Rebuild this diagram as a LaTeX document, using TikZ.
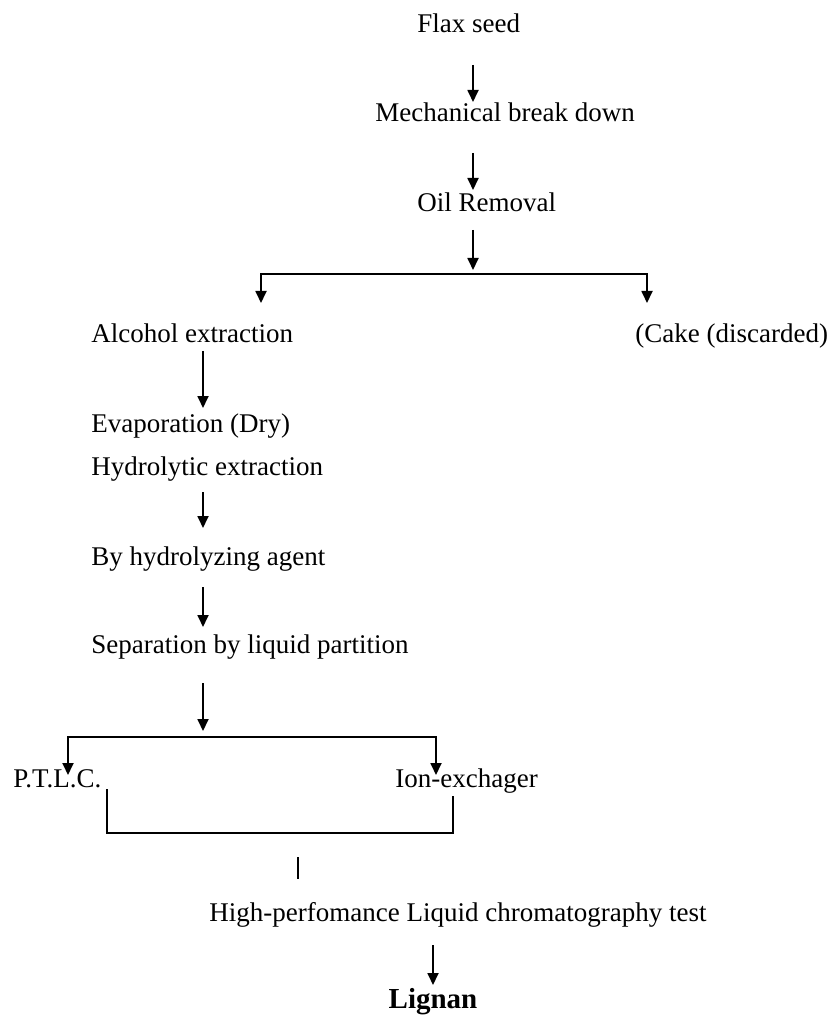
\documentclass[tikz,border=0pt]{standalone}
\usepackage{fontspec}
\setmainfont{Liberation Serif}
\usetikzlibrary{arrows.meta,calc}
\tikzset{
  stage/.style={inner sep=0pt,anchor=base west,font=\fontsize{13.5}{16}\selectfont},
  arr/.style={-{Triangle[length=6pt,width=5.5pt]},line width=0.9pt},
  twoarr/.style={{Triangle[length=6pt,width=5.5pt]}-{Triangle[length=6pt,width=5.5pt]},line width=0.9pt},
  bar/.style={line width=0.9pt}
}

\begin{document}
\begin{tikzpicture}[x=0.5pt,y=-0.5pt]
        \useasboundingbox (0,0) rectangle (828,1015);
        % first column
        \node[stage] (flax) at (417,33) {Flax seed};
        \node[stage] (mech) at (375,122) {Mechanical break down};
        \node[stage] (oil) at (417,212) {Oil Removal};
        \coordinate (spine) at (473,0);
        \draw[arr] ($(flax.base -| spine)+(0,32)$) -- ($(mech.base -| spine)+(0,-20)$);
        \draw[arr] ($(mech.base -| spine)+(0,31)$) -- ($(oil.base -| spine)+(0,-22)$);
        \draw[arr] ($(oil.base -| spine)+(0,18)$) -- ($(oil.base -| spine)+(0,58)$);
        % fork after oil removal
        \node[stage] (alcohol) at (91,343) {Alcohol extraction};
        \node[stage] (cake) at (635,343) {(Cake (discarded)};
        \draw[twoarr] ($(alcohol.base west)+(170,-40)$) |- ($(cake.base west)+(12,-69)$) -- ($(cake.base west)+(12,-40)$);
        % second column
        \node[stage] (evap) at (91,432) {Evaporation (Dry)};
        \node[stage] (hydro) at (91,475) {Hydrolytic extraction};
        \node[stage] (agent) at (91,565) {By hydrolyzing agent};
        \node[stage] (separ) at (91,653) {Separation by liquid partition};
        \coordinate (spineb) at (203,0);
        \draw[arr] ($(alcohol.base -| spineb)+(0,8)$) -- ($(evap.base -| spineb)+(0,-24)$);
        \draw[arr] ($(hydro.base -| spineb)+(0,17)$) -- ($(agent.base -| spineb)+(0,-37)$);
        \draw[arr] ($(agent.base -| spineb)+(0,22)$) -- ($(separ.base -| spineb)+(0,-26)$);
        \draw[arr] ($(separ.base -| spineb)+(0,30)$) -- ($(separ.base -| spineb)+(0,78)$);
        % fork after partition
        \node[stage] (ptlc) at (13,787) {P.T.L.C.};
        \node[stage] (ionex) at (395,787) {Ion-exchager};
        \draw[twoarr] ($(ptlc.base west)+(55,-12)$) |- ($(ionex.base west)+(41,-50)$) -- ($(ionex.base west)+(41,-12)$);
        % join
        \draw[bar] ($(ptlc.base west)+(94,2)$) |- ($(ionex.base west)+(58,46)$) -- ($(ionex.base west)+(58,9)$);
        \node[stage,anchor=base] (hplc) at (458,921) {High-perfomance Liquid chromatography test};
        \draw[bar] ($(hplc.base)+(-160,-64)$) -- ($(hplc.base)+(-160,-42)$);
        \node[stage,anchor=base,font=\fontsize{14.5}{17}\selectfont\bfseries] (lignan) at (433,1008) {Lignan};
        \draw[arr] ($(hplc.base)+(-25,24)$) -- ($(lignan.base)+(0,-23)$);
      \end{tikzpicture}
\end{document}
